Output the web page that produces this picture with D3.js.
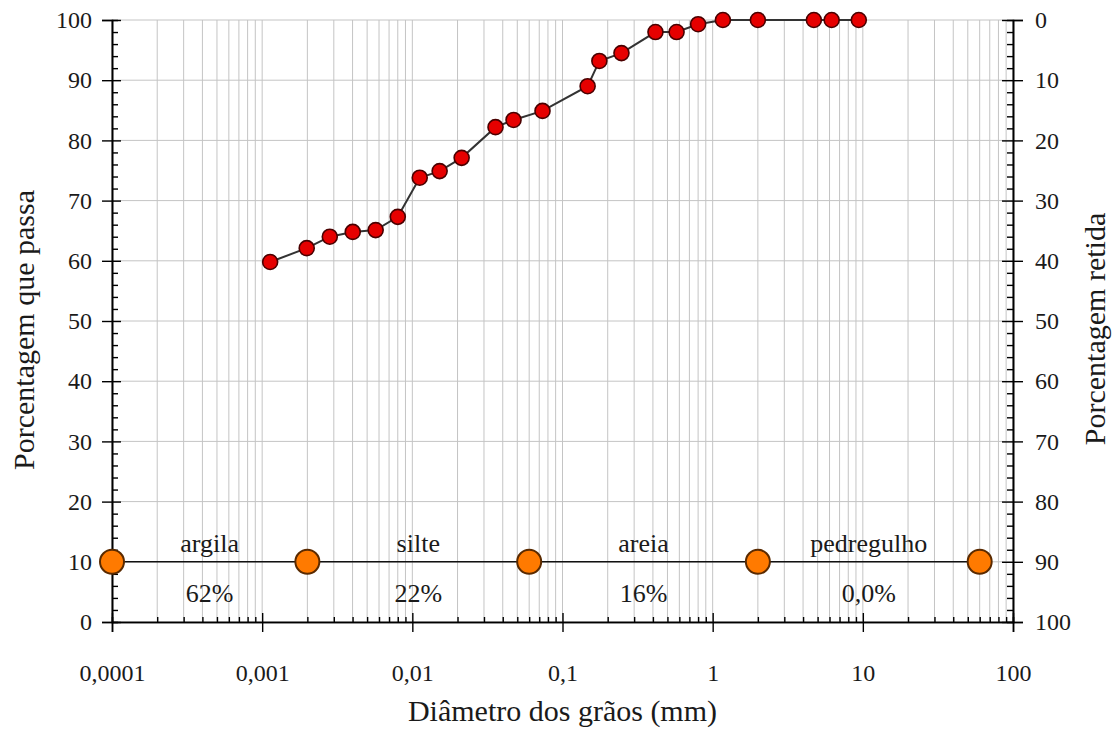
<!DOCTYPE html>
<html>
<head>
<meta charset="utf-8">
<script src="https://cdn.jsdelivr.net/npm/d3@7"></script>
<style>
  body { margin: 0; background: #fff; }
  svg { display: block; font-family: "Liberation Serif", "Times New Roman", serif; }
</style>
</head>
<body>
<div id="chart"></div>
<script>
// grain size curve (diameter in mm, % passing)
var diameters = [0.00113, 0.00198, 0.00282, 0.00401, 0.0057, 0.008, 0.0112, 0.0152, 0.0213,
                 0.0358, 0.0472, 0.0736, 0.147, 0.176, 0.247, 0.416, 0.575, 0.8, 1.17, 2.0,
                 4.72, 6.2, 9.4];
var passing = [59.8, 62.1, 64.0, 64.8, 65.1, 67.3, 73.8, 74.9, 77.1,
               82.2, 83.4, 84.9, 89.0, 93.2, 94.5, 98.0, 98.0, 99.3, 100, 100,
               100, 100, 100];

// fraction limits (mm) and labels
var limits = [0.0001, 0.002, 0.06, 2, 60];
var fractions = ["argila", "silte", "areia", "pedregulho"];
var fractionPct = ["62%", "22%", "16%", "0,0%"];
var limitLevel = 10;

var xTicks = [0.0001, 0.001, 0.01, 0.1, 1, 10, 100];
var yTicks = [0, 10, 20, 30, 40, 50, 60, 70, 80, 90, 100];

var width = 1114, height = 729;
var plotL = 112, plotR = 1013, plotT = 20, plotB = 622;

var svg = d3.select("#chart").append("svg")
    .attr("width", width)
    .attr("height", height);

svg.append("rect").attr("width", width).attr("height", height).attr("fill", "#fff");

var x = d3.scaleLog().domain([0.0001, 100]).range([plotL, plotR]);
var y = d3.scaleLinear().domain([0, 100]).range([plotB, plotT]);
var yRight = d3.scaleLinear().domain([0, 100]).range([plotT, plotB]);

// minor log ticks (2..9 in every decade)
var minorX = [];
for (var k = -4; k < 2; k++) {
    for (var m = 2; m <= 9; m++) {
        minorX.push(m * Math.pow(10, k));
    }
}
var minorY = d3.range(0, 101, 2).filter(function (d) { return d % 10 !== 0; });

// grid
var grid = svg.append("g").attr("stroke", "#c4c4c4").attr("stroke-width", 1);
grid.selectAll(".vgrid")
    .data(minorX.concat(xTicks))
    .enter().append("line")
    .attr("x1", function (d) { return x(d); })
    .attr("x2", function (d) { return x(d); })
    .attr("y1", plotT)
    .attr("y2", plotB);
grid.selectAll(".hgrid")
    .data(yTicks)
    .enter().append("line")
    .attr("x1", plotL)
    .attr("x2", plotR)
    .attr("y1", function (d) { return y(d); })
    .attr("y2", function (d) { return y(d); });

function fmt(d) {
    return String(d).replace(".", ",");
}

// x axis
var xAxis = svg.append("g")
    .attr("transform", "translate(0," + plotB + ")")
    .call(d3.axisBottom(x).tickValues(xTicks).tickFormat(fmt).tickSizeOuter(0).tickSize(10).tickPadding(32));
xAxis.selectAll(".tick line").attr("y1", -9).attr("y2", 10);
svg.append("g")
    .attr("transform", "translate(0," + plotB + ")")
    .call(d3.axisBottom(x).tickValues(minorX).tickFormat("").tickSizeOuter(0).tickSize(-5));

// left y axis
var yAxis = svg.append("g")
    .attr("transform", "translate(" + plotL + ",0)")
    .call(d3.axisLeft(y).tickValues(yTicks).tickSizeOuter(0).tickSize(10).tickPadding(10));
yAxis.selectAll(".tick line").attr("x1", 9);
svg.append("g")
    .attr("transform", "translate(" + plotL + ",0)")
    .call(d3.axisLeft(y).tickValues(minorY).tickFormat("").tickSizeOuter(0).tickSize(-6));

// right y axis (retained)
var yAxisR = svg.append("g")
    .attr("transform", "translate(" + plotR + ",0)")
    .call(d3.axisRight(yRight).tickValues(yTicks).tickSizeOuter(0).tickSize(10).tickPadding(12));
yAxisR.selectAll(".tick line").attr("x1", -11);
svg.append("g")
    .attr("transform", "translate(" + plotR + ",0)")
    .call(d3.axisRight(yRight).tickValues(minorY).tickFormat("").tickSizeOuter(0).tickSize(-6));

svg.selectAll(".domain").attr("stroke", "#000").attr("stroke-width", 1.6);
svg.selectAll(".tick line").attr("stroke", "#000").attr("stroke-width", 1.4);
svg.selectAll(".tick text")
    .attr("font-family", "Liberation Serif")
    .attr("font-size", 24)
    .attr("fill", "#1a1a1a");

// fraction limits
svg.append("line")
    .attr("x1", x(limits[0]))
    .attr("x2", x(limits[limits.length - 1]))
    .attr("y1", y(limitLevel))
    .attr("y2", y(limitLevel))
    .attr("stroke", "#111")
    .attr("stroke-width", 1.5);

var mids = fractions.map(function (f, i) {
    return Math.sqrt(limits[i] * limits[i + 1]);
});
svg.selectAll(".frac")
    .data(fractions)
    .enter().append("text")
    .attr("x", function (d, i) { return x(mids[i]); })
    .attr("y", y(limitLevel) - 10)
    .attr("text-anchor", "middle")
    .attr("font-size", 26)
    .attr("fill", "#1a1a1a")
    .text(function (d) { return d; });
svg.selectAll(".pct")
    .data(fractionPct)
    .enter().append("text")
    .attr("x", function (d, i) { return x(mids[i]); })
    .attr("y", y(limitLevel) + 40)
    .attr("text-anchor", "middle")
    .attr("font-size", 26)
    .attr("fill", "#1a1a1a")
    .text(function (d) { return d; });

svg.selectAll(".limit")
    .data(limits)
    .enter().append("circle")
    .attr("cx", function (d) { return x(d); })
    .attr("cy", y(limitLevel))
    .attr("r", 12)
    .attr("fill", "#ff7a00")
    .attr("stroke", "#5a2a00")
    .attr("stroke-width", 2);

// curve
var pts = diameters.map(function (d, i) { return [d, passing[i]]; });
var line = d3.line()
    .x(function (d) { return x(d[0]); })
    .y(function (d) { return y(d[1]); });
svg.append("path")
    .datum(pts)
    .attr("d", line)
    .attr("fill", "none")
    .attr("stroke", "#333")
    .attr("stroke-width", 2);
svg.selectAll(".pt")
    .data(pts)
    .enter().append("circle")
    .attr("cx", function (d) { return x(d[0]); })
    .attr("cy", function (d) { return y(d[1]); })
    .attr("r", 7.5)
    .attr("fill", "#e60000")
    .attr("stroke", "#4a0000")
    .attr("stroke-width", 1.6);

// titles
svg.append("text")
    .attr("x", (plotL + plotR) / 2)
    .attr("y", 721)
    .attr("text-anchor", "middle")
    .attr("font-size", 30)
    .attr("fill", "#1a1a1a")
    .text("Diâmetro dos grãos (mm)");
svg.append("text")
    .attr("transform", "translate(34,330) rotate(-90)")
    .attr("text-anchor", "middle")
    .attr("font-size", 30)
    .attr("fill", "#1a1a1a")
    .text("Porcentagem que passa");
svg.append("text")
    .attr("transform", "translate(1105,329) rotate(-90)")
    .attr("text-anchor", "middle")
    .attr("font-size", 30)
    .attr("fill", "#1a1a1a")
    .text("Porcentagem retida");
</script>
</body>
</html>
